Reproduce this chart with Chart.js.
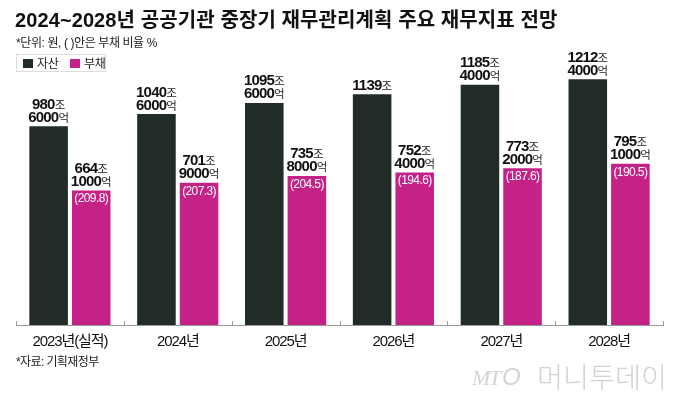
<!DOCTYPE html>
<html>
<head>
<meta charset="utf-8">
<script src="https://cdn.jsdelivr.net/npm/chart.js@4/dist/chart.umd.min.js"></script>
<style>
  html, body { margin: 0; padding: 0; background: #fff; }
  #wrap { position: relative; width: 680px; height: 404px; overflow: hidden; background: #fff; }
  #c { position: absolute; left: 0; top: 0; }
  .t { position: absolute; white-space: nowrap; color: #111; font-family: "Liberation Sans", "Noto Sans CJK KR", sans-serif; }
  #title { left: 15px; top: 8px; font-size: 20px; font-weight: bold; letter-spacing: 0.1px; line-height: 24px; }
  #unit { left: 16px; top: 35px; font-size: 12px; line-height: 16px; letter-spacing: -0.4px; color: #222; }
  #legend { position: absolute; left: 16px; top: 54px; width: 90px; height: 18px; border: 1px solid #ddd; box-sizing: border-box; }
  .sw { position: absolute; width: 10px; height: 9px; top: 4px; }
  .lt { position: absolute; top: 0px; white-space: nowrap; font-size: 12px; line-height: 16px; color: #222; font-family: "Noto Sans CJK KR", sans-serif; letter-spacing: -0.3px; }
  #src { left: 16px; top: 354px; font-size: 12px; line-height: 16px; letter-spacing: -0.6px; color: #222; }
  #logo1 { left: 472px; top: 364px; font-size: 22px; line-height: 28px; font-style: italic; color: #d4d4d4; font-family: "Liberation Serif", serif; letter-spacing: -1.5px; }
  #logo3 { left: 502px; top: 362px; font-size: 24px; line-height: 30px; font-style: italic; color: #d4d4d4; font-family: "Liberation Sans", sans-serif; }
  #logo2 { left: 537px; top: 359px; font-size: 28px; line-height: 34px; color: #d2d2d2; font-family: "Noto Sans CJK KR", sans-serif; font-weight: 300; transform: scaleX(1.01); transform-origin: left top; }
</style>
</head>
<body>
<div id="wrap">
  <canvas id="c" width="680" height="404"></canvas>
  <div class="t" id="title">2024~2028년 공공기관 중장기 재무관리계획 주요 재무지표 전망</div>
  <div class="t" id="unit">*단위: 원, ( )안은 부채 비율 %</div>
  <div id="legend">
    <div class="sw" style="left:6px; background:#212c26;"></div>
    <div class="lt" style="left:20px;">자산</div>
    <div class="sw" style="left:53px; background:#c42286;"></div>
    <div class="lt" style="left:67px;">부채</div>
  </div>
  <div class="t" id="src">*자료: 기획재정부</div>
  <div class="t" id="logo1">MT</div>
  <div class="t" id="logo3">O</div>
  <div class="t" id="logo2">머니투데이</div>
</div>
<script>
// ---- data (조원) ----
const years = ['2023년(실적)', '2024년', '2025년', '2026년', '2027년', '2028년'];
const assets = [980.6, 1040.6, 1095.6, 1139.0, 1185.4, 1212.4];
const debts = [664.1, 701.9, 735.8, 752.4, 773.2, 795.1];
const debtRatio = [209.8, 207.3, 204.5, 194.6, 187.6, 190.5];
const seriesNames = ['자산', '부채'];

const DARK = '#212c26';
const PINK = '#c42286';

function splitJoEok(v) {
  const jo = Math.floor(v + 1e-9);
  const eok = Math.round((v - jo) * 10000);
  return [jo, eok];
}

function drawMixed(ctx, x, baseY, num, unit) {
  ctx.save();
  ctx.textBaseline = 'alphabetic';
  ctx.font = 'bold 15px "Liberation Sans", Arial, sans-serif';
  ctx.letterSpacing = '-0.8px';
  const wN = ctx.measureText(num).width;
  ctx.font = '11.5px "Noto Sans CJK KR", sans-serif';
  ctx.letterSpacing = '0px';
  const wU = ctx.measureText(unit).width;
  const total = wN + wU;
  let sx = x - total / 2;
  ctx.fillStyle = '#111';
  ctx.textAlign = 'left';
  ctx.font = 'bold 15px "Liberation Sans", Arial, sans-serif';
  ctx.letterSpacing = '-0.8px';
  ctx.fillText(num, sx, baseY);
  ctx.font = '11.5px "Noto Sans CJK KR", sans-serif';
  ctx.letterSpacing = '0px';
  ctx.fillStyle = '#222';
  ctx.fillText(unit, sx + wN, baseY);
  ctx.restore();
}

const labelPlugin = {
  id: 'valueLabels',
  afterDatasetsDraw(chart) {
    const ctx = chart.ctx;
    chart.data.datasets.forEach((ds, di) => {
      const meta = chart.getDatasetMeta(di);
      meta.data.forEach((bar, i) => {
        const [jo, eok] = splitJoEok(ds.data[i]);
        if (eok > 0) {
          drawMixed(ctx, bar.x, bar.y - 17.5, String(jo), '조');
          drawMixed(ctx, bar.x, bar.y - 4.5, String(eok), '억');
        } else {
          drawMixed(ctx, bar.x, bar.y - 4.5, String(jo), '조');
        }
        if (di === 1) {
          ctx.save();
          ctx.font = '12px "Liberation Sans", Arial, sans-serif';
          ctx.letterSpacing = '-0.6px';
          ctx.fillStyle = '#ffffff';
          ctx.textAlign = 'center';
          ctx.textBaseline = 'middle';
          ctx.fillText('(' + debtRatio[i].toFixed(1) + ')', bar.x, bar.y + 8.5);
          ctx.restore();
        }
      });
    });
  }
};

const tickPlugin = {
  id: 'catTicks',
  beforeDraw(chart) {
    chart.ctx.letterSpacing = '-1.1px';
  },
  afterDatasetsDraw(chart) {
    const xs = chart.scales.x;
    const ctx = chart.ctx;
    const n = years.length;
    const w = (xs.right - xs.left) / n;
    ctx.save();
    ctx.strokeStyle = '#9a9a9a';
    ctx.lineWidth = 1;
    for (let i = 0; i <= n; i++) {
      const px = Math.round(xs.left + w * i) + 0.5;
      ctx.beginPath();
      ctx.moveTo(px, xs.top);
      ctx.lineTo(px, xs.top - 4);
      ctx.stroke();
    }
    ctx.restore();
  }
};

new Chart(document.getElementById('c'), {
  type: 'bar',
  data: {
    labels: years,
    datasets: [
      { label: seriesNames[0], data: assets, backgroundColor: DARK },
      { label: seriesNames[1], data: debts, backgroundColor: PINK }
    ]
  },
  options: {
    responsive: false,
    animation: false,
    events: [],
    layout: { padding: { left: 16, right: 17, top: 21, bottom: 45 } },
    datasets: { bar: { categoryPercentage: 0.79, barPercentage: 0.905 } },
    plugins: { legend: { display: false }, tooltip: { enabled: false }, title: { display: false } },
    scales: {
      x: {
        grid: { display: true, drawOnChartArea: false, drawTicks: false, offset: true },
        border: { display: true, color: '#9a9a9a', width: 1 },
        ticks: {
          color: '#111',
          padding: 8,
          font: { family: '"Liberation Sans", "Noto Sans CJK KR", sans-serif', size: 15 },
          maxRotation: 0
        }
      },
      y: { display: false, min: 0, max: 1500 }
    }
  },
  plugins: [labelPlugin, tickPlugin]
});
</script>
</body>
</html>
